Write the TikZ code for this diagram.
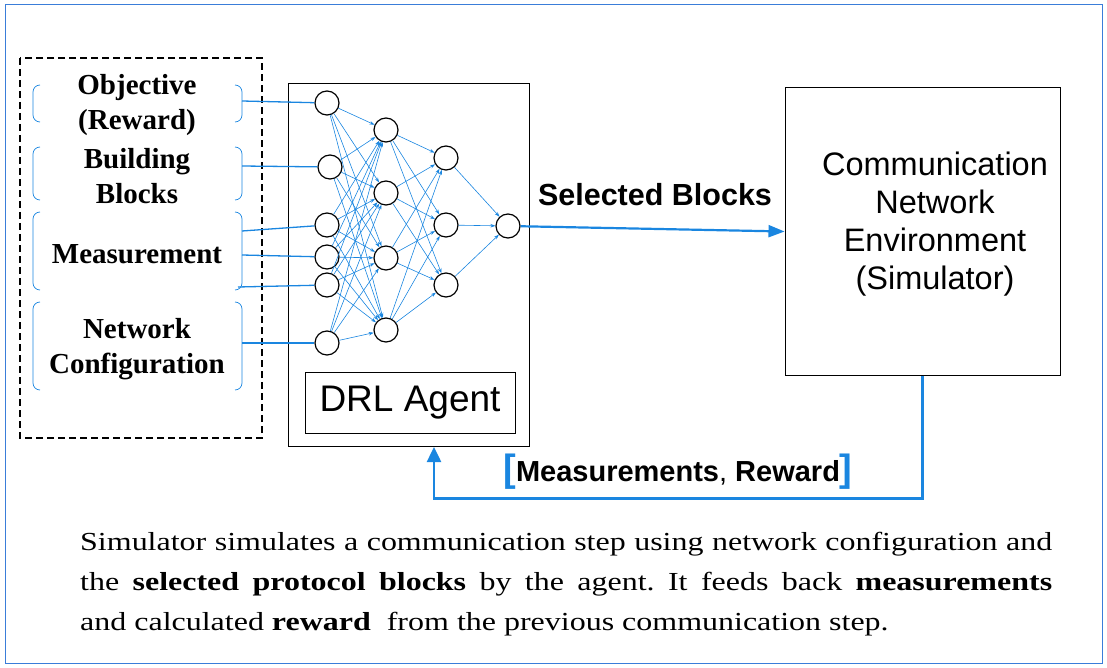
\documentclass[tikz,border=0pt]{standalone}
\usepackage{fontspec}
\setmainfont{Liberation Serif}
\setsansfont{Liberation Sans}
\newfontfamily\capfont[FakeStretch=1.23]{Liberation Serif}
\usepackage{xcolor}
\usepackage{tikz}
\usetikzlibrary{arrows.meta}
\definecolor{frameblue}{RGB}{58,125,217}
\definecolor{linkblue}{RGB}{26,134,224}

\tikzset{
  neuron/.style={circle, draw, line width=1.2pt, minimum size=24pt, inner sep=0pt},
  edge/.style={linkblue, line width=0.6pt, -{Stealth[length=5pt,width=3.5pt]}},
  inline/.style={linkblue, line width=1.3pt},
  brk/.style={linkblue, line width=0.7pt, rounded corners=7pt},
  grouplabel/.style={font=\bfseries\fontsize{29}{35}\selectfont, align=center},
}

\begin{document}
\begin{tikzpicture}[x=1pt, y=-1pt]
  \useasboundingbox (0,0) rectangle (1107,668);
  \draw[frameblue, line width=1pt] (5,5) rectangle (1102,663);

  % inputs
  \draw[dash pattern=on 7pt off 4pt, line width=1.3pt] (20,58) rectangle (262,438);
  \foreach \ya/\yb in {85/122, 147/200, 212/290, 302/390} {
    \draw[brk] (40,\ya) -- (33,\ya) -- (33,\yb) -- (40,\yb);
    \draw[brk] (235,\ya) -- (242,\ya) -- (242,\yb) -- (235,\yb);
  }
  \node[grouplabel] (obj) at (137,105) {Objective\\(Reward)};
  \node[grouplabel] (bb) at (137,176) {Building\\Blocks};
  \node[grouplabel] (meas) at (137,254) {Measurement};
  \node[grouplabel] (conf) at (137,349) {Network\\Configuration};

  % agent
  \node[draw, line width=0.8pt, minimum width=241pt, minimum height=363pt] (agent) at (408.5,264.5) {};
  \node[draw, line width=0.8pt, minimum width=210pt, minimum height=61pt,
        font=\sffamily\fontsize{37}{37}\selectfont] (drl) at (410,402.5) {DRL Agent};

  \node[neuron] (i1) at (327,103) {};
  \node[neuron] (i2) at (330,167) {};
  \node[neuron] (i3) at (327,225) {};
  \node[neuron] (i4) at (327,257) {};
  \node[neuron] (i5) at (327,285) {};
  \node[neuron] (i6) at (327,343) {};
  \node[neuron] (h1) at (386,130) {};
  \node[neuron] (h2) at (386,193) {};
  \node[neuron] (h3) at (386,258) {};
  \node[neuron] (h4) at (386,330) {};
  \node[neuron] (g1) at (446,158) {};
  \node[neuron] (g2) at (446,225) {};
  \node[neuron] (g3) at (446,285) {};
  \node[neuron] (out) at (508,226) {};

  \coordinate (c1) at (242,101);
  \coordinate (c2) at (242,166);
  \coordinate (c3) at (242,231);
  \coordinate (c4) at (242,255);
  \coordinate (c5) at (238,287);
  \coordinate (c6) at (242,343);
  \foreach \n in {1,...,6}
    \draw[inline] (c\n) -- (i\n);

  \foreach \a in {1,...,6}
    \foreach \b in {1,...,4}
      \draw[edge] (i\a) -- (h\b);
  \foreach \a in {1,...,4}
    \foreach \b in {1,...,3}
      \draw[edge] (h\a) -- (g\b);
  \foreach \a in {1,...,3}
    \draw[edge] (g\a) -- (out);

  % simulator
  \node[draw, line width=1pt, minimum width=275pt, minimum height=287pt] (sim) at (922.5,231.5) {};
  \node[font=\sffamily\fontsize{32.5}{38}\selectfont, align=center] (simtext) at (935,224)
    {Communication\\Network\\Environment\\(Simulator)};

  \draw[linkblue, line width=2.2pt, -{Triangle[length=16pt,width=12pt]}] (out) -- (sim.west);
  \node[font=\sffamily\bfseries\fontsize{30.5}{30.5}\selectfont] (sel) at (655,195) {Selected Blocks};

  \coordinate (fbin) at (434,447);
  \draw[linkblue, line width=2.5pt, -{Triangle[length=15pt,width=14pt]}] (sim.south) -- ++(0,123) -| (fbin);
  \node[font=\sffamily\fontsize{29}{29}\selectfont] (fb) at (678,472)
    {\textcolor{linkblue}{\bfseries\fontsize{38}{38}\selectfont[}\textbf{Measurements}, \textbf{Reward}\textcolor{linkblue}{\bfseries\fontsize{38}{38}\selectfont]}};

  \node[anchor=north west, text width=972pt, align=justify, inner sep=0pt,
        font=\capfont\frenchspacing\fontsize{26}{40}\selectfont] (caption) at (80,532)
    {Simulator simulates a communication step using network configuration and\linebreak the \textbf{selected protocol blocks} by the agent. It feeds back \textbf{measurements}\linebreak and calculated \textbf{reward}~ from the previous communication step.};
\end{tikzpicture}
\end{document}
